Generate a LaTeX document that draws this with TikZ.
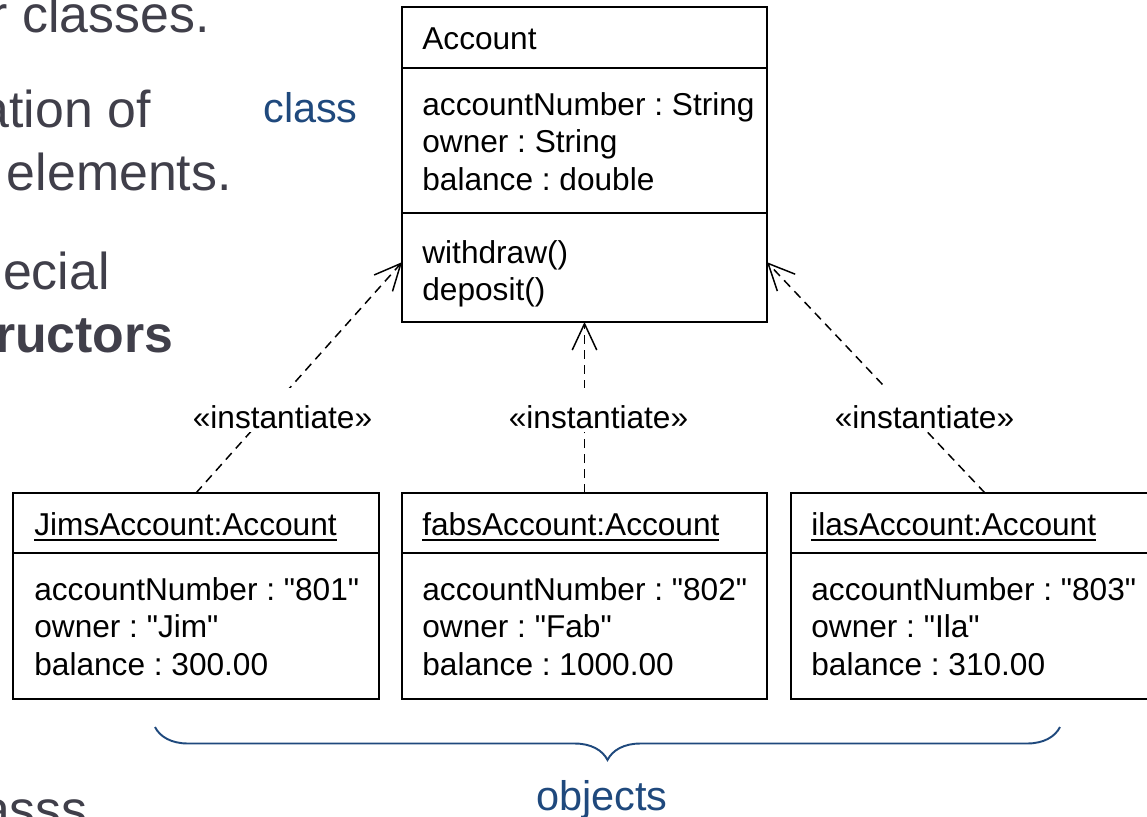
\documentclass[tikz,border=0pt]{standalone}
\usepackage{fontspec}
\setmainfont{Liberation Sans}
\usepackage{tikz}
\usetikzlibrary{positioning,arrows.meta,decorations.pathreplacing}
\definecolor{slidecol}{RGB}{64,63,74}
\definecolor{notecol}{RGB}{31,73,125}
\newcommand{\ulname}[1]{\setbox0=\hbox{#1}\rlap{\rule[-3.2pt]{\wd0}{0.9pt}}\box0}
\newcommand{\qval}[1]{\textquotedbl#1\textquotedbl}
\frenchspacing

\begin{document}
\begin{tikzpicture}[x=0.02cm, y=-0.02cm,
  comp/.style={rectangle, draw=black, line width=1.1pt, inner sep=0pt,
               outer sep=0pt, minimum width=#1},
  txt/.style={anchor=north west, inner sep=0pt, align=left,
              font=\fontsize{18}{21.3}\selectfont},
  inst/.style={-{Straight Barb[length=15pt, width=14pt]}, line width=0.85pt,
               dash pattern=on 5pt off 3.5pt},
  stereo/.style={anchor=base, fill=white, inner xsep=2pt, inner ysep=0pt,
                 text height=0.8cm, text depth=0.08cm,
                 font=\fontsize{18}{21.3}\selectfont},
  slide/.style={anchor=base east, inner sep=0pt, text=slidecol,
                font=\fontsize{29.5}{35}\selectfont},
  note/.style={anchor=base, inner sep=0pt, text=notecol,
               font=\fontsize{23.6}{28}\selectfont}
]
\useasboundingbox (0,0) rectangle (1147,816);

% slide text behind the diagram
\node[slide] (s1) at (210,32)  {r classes.};
\node[slide] (s2) at (151,127) {ation of};
\node[slide] (s3) at (232,190) {elements.};
\node[slide] (s4) at (110,289) {ecial};
\node[slide, font=\fontsize{29.5}{35}\selectfont\bfseries] (s5) at (174,352) {ructors};
\node[slide] (s6) at (88,827)  {asss};

% the class
\node[comp=7.3cm, minimum height=1.22cm] (acchead) at (584.5,37.5) {};
\node[comp=7.3cm, minimum height=2.9cm, below=0pt of acchead] (accattr) {};
\node[comp=7.3cm, minimum height=2.18cm, below=0pt of accattr] (accops) {};
\node[txt] (acctitle)   at (422,27)  {Account};
\node[txt] (accfields)  at (422,92)  {accountNumber : String\\owner : String\\balance : double};
\node[txt] (accmethods) at (422,240) {withdraw()\\deposit()};

% the objects
\node[comp=7.32cm, minimum height=1.2cm] (jimshead) at (196,523) {};
\node[comp=7.32cm, minimum height=2.92cm, below=0pt of jimshead] (jimsattr) {};
\node[txt] (jimstitle)  at (34,512) {\ulname{JimsAccount:Account}};
\node[txt] (jimsfields) at (34,577) {accountNumber : \qval{801}\\owner : \qval{Jim}\\balance : 300.00};

\node[comp=7.3cm, minimum height=1.2cm] (fabshead) at (584.5,523) {};
\node[comp=7.3cm, minimum height=2.92cm, below=0pt of fabshead] (fabsattr) {};
\node[txt] (fabstitle)  at (422,512) {\ulname{fabsAccount:Account}};
\node[txt] (fabsfields) at (422,577) {accountNumber : \qval{802}\\owner : \qval{Fab}\\balance : 1000.00};

\node[comp=7.76cm, minimum height=1.2cm] (ilashead) at (985,523) {};
\node[comp=7.76cm, minimum height=2.92cm, below=0pt of ilashead] (ilasattr) {};
\node[txt] (ilastitle)  at (811,512) {\ulname{ilasAccount:Account}};
\node[txt] (ilasfields) at (811,577) {accountNumber : \qval{803}\\owner : \qval{Ila}\\balance : 310.00};

% instantiate dependencies
\draw[inst] (jimshead.north) -- ([yshift=3pt]accops.west);
\draw[inst] (fabshead.north) -- (accops.south);
\draw[inst] (ilashead.north) -- ([yshift=3pt]accops.east);
\node[stereo] (inst1) at (282.5,428) {«instantiate»};
\node[stereo] (inst2) at (598.5,428) {«instantiate»};
\node[stereo] (inst3) at (924.5,428) {«instantiate»};

% notes
\node[note] (clsnote) at (310.5,122) {class};
\coordinate (braceR) at (1060,727);
\coordinate (braceL) at (155,727);
\draw[notecol, line width=1.1pt, decorate, decoration={brace, amplitude=0.66cm}]
  (braceR) -- (braceL);
\node[note] (objnote) at (602,810) {objects};
\end{tikzpicture}
\end{document}
